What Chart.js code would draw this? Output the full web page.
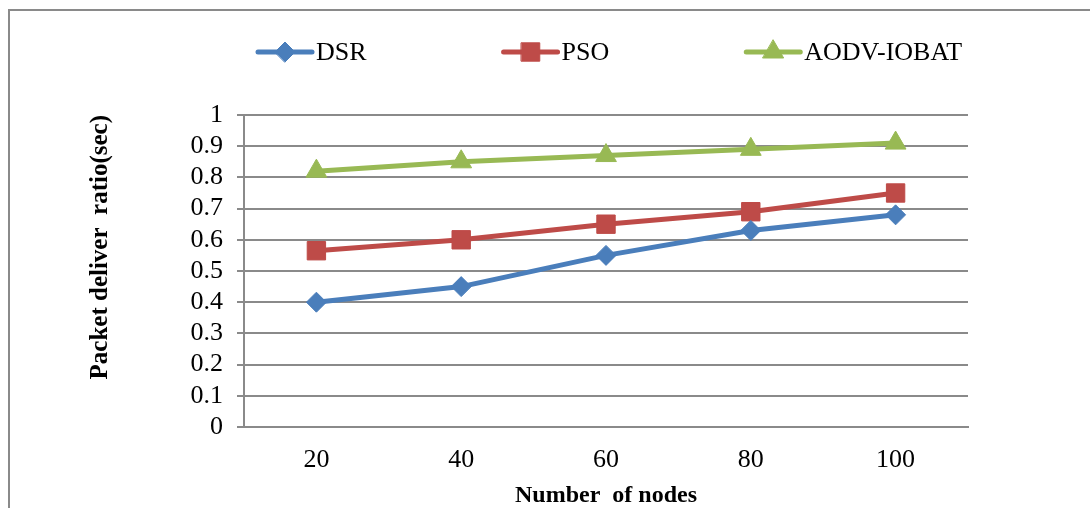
<!DOCTYPE html>
<html>
<head>
<meta charset="utf-8">
<script src="https://cdn.jsdelivr.net/npm/chart.js@4/dist/chart.umd.min.js"></script>
<style>
  html, body { margin: 0; padding: 0; background: #ffffff; }
  #wrap { width: 1090px; height: 508px; position: relative; }
</style>
</head>
<body>
<div id="wrap"><canvas id="c"></canvas></div>
<script>
// Packet delivery ratio versus network size
const nodeCounts = ['20', '40', '60', '80', '100'];
const dsrRatio = [0.40, 0.45, 0.55, 0.63, 0.68];
const psoRatio = [0.565, 0.60, 0.65, 0.69, 0.75];
const aodvIobatRatio = [0.82, 0.85, 0.87, 0.89, 0.91];
const seriesNames = ['DSR', 'PSO', 'AODV-IOBAT'];

const FONT = '"Liberation Serif", "Times New Roman", serif';
const GRID = '#8a8a8a';

function series(label, data, color, style, radius) {
  return {
    label, data,
    borderColor: color, backgroundColor: color,
    borderWidth: 5, borderCapStyle: 'round', borderJoinStyle: 'round',
    pointStyle: style, pointRadius: radius, pointHoverRadius: radius,
    pointBorderWidth: 1, pointBackgroundColor: color, pointBorderColor: color,
    tension: 0, fill: false
  };
}

// Outer frame: top and left rules of the figure box
const framePlugin = {
  id: 'frame',
  beforeDraw(chart) {
    const ctx = chart.ctx;
    ctx.save();
    ctx.strokeStyle = GRID;
    ctx.lineWidth = 2;
    ctx.beginPath();
    ctx.moveTo(9, 508);
    ctx.lineTo(9, 10);
    ctx.lineTo(1090, 10);
    ctx.stroke();
    ctx.restore();
  }
};

// Legend row: line segment with marker, then the series name
const lineLegendPlugin = {
  id: 'lineLegend',
  afterDraw(chart) {
    const ctx = chart.ctx;
    const y = 52;
    let x = chart.chartArea.left + 14;
    ctx.save();
    ctx.font = '26px ' + FONT;
    ctx.textBaseline = 'middle';
    ctx.textAlign = 'left';
    chart.data.datasets.forEach(ds => {
      ctx.strokeStyle = ds.borderColor;
      ctx.lineWidth = 5;
      ctx.lineCap = 'round';
      ctx.beginPath();
      ctx.moveTo(x, y);
      ctx.lineTo(x + 54, y);
      ctx.stroke();
      ctx.fillStyle = ds.pointBackgroundColor;
      ctx.strokeStyle = ds.pointBorderColor;
      ctx.lineWidth = 1;
      Chart.helpers.drawPoint(ctx, {
        pointStyle: ds.pointStyle, radius: ds.pointRadius, rotation: 0, borderWidth: 1
      }, x + 27, y);
      ctx.fillStyle = '#000000';
      ctx.fillText(ds.label, x + 58, y + 1);
      x += 58 + ctx.measureText(ds.label).width + 137;
    });
    ctx.restore();
  }
};

new Chart(document.getElementById('c'), {
  type: 'line',
  data: {
    labels: nodeCounts,
    datasets: [
      series(seriesNames[0], dsrRatio, '#4a7ebb', 'rectRot', 10),
      series(seriesNames[1], psoRatio, '#be4b48', 'rect', 13),
      series(seriesNames[2], aodvIobatRatio, '#98b954', 'triangle', 12)
    ]
  },
  options: {
    responsive: true,
    maintainAspectRatio: false,
    animation: false,
    layout: { padding: { top: 115, right: 122, bottom: 0, left: 0 } },
    plugins: {
      legend: { display: false },
      tooltip: { enabled: false }
    },
    scales: {
      x: {
        type: 'category',
        offset: true,
        grid: { display: true, drawOnChartArea: false, drawTicks: false, color: GRID },
        border: { display: true, color: GRID, width: 2 },
        ticks: {
          color: '#000000', padding: 18,
          font: { family: FONT, size: 26 }, maxRotation: 0
        },
        title: {
          display: true, text: 'Number  of nodes', color: '#000000',
          font: { family: FONT, size: 24, weight: 'bold', lineHeight: 1 },
          padding: { top: 0, bottom: 0 }
        },
        afterFit(scale) { scale.height = 81; }
      },
      y: {
        min: 0, max: 1,
        grid: { color: GRID, lineWidth: 2, tickLength: 7, drawTicks: true },
        border: { display: true, color: GRID, width: 2 },
        ticks: {
          stepSize: 0.1, autoSkip: false, color: '#000000', padding: 14,
          font: { family: FONT, size: 26 },
          callback: v => String(Number(v.toFixed(1)))
        },
        title: {
          display: true, text: 'Packet deliver  ratio(sec)', color: '#000000',
          align: 'end',
          font: { family: FONT, size: 25, weight: 'bold', lineHeight: 1 },
          padding: { top: 88, bottom: 0 }
        },
        afterFit(scale) { scale.width = 244; }
      }
    }
  },
  plugins: [framePlugin, lineLegendPlugin]
});
</script>
</body>
</html>
